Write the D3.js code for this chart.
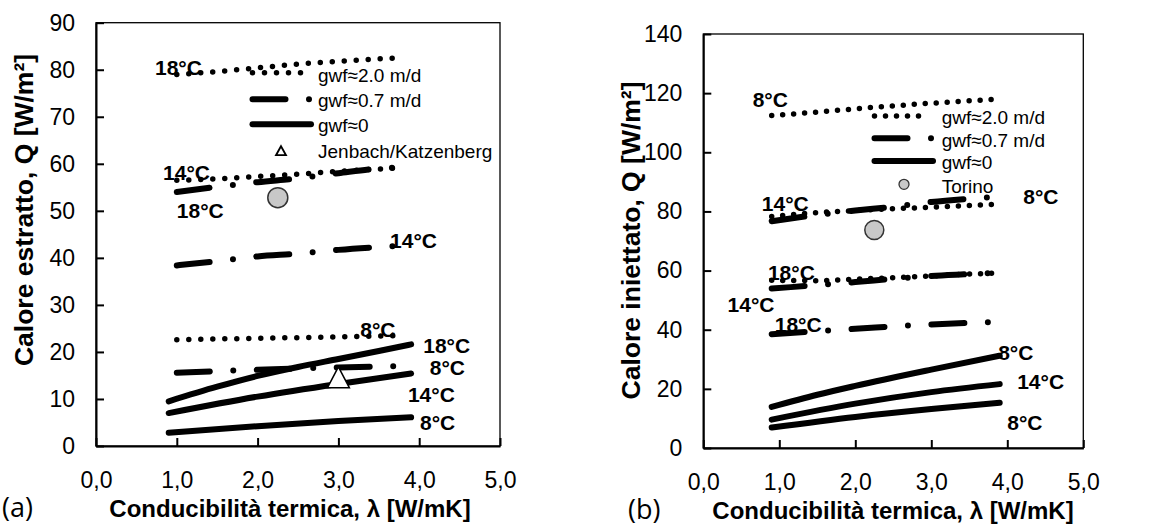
<!DOCTYPE html>
<html lang="it">
<head>
<meta charset="UTF-8">
<title>Calore estratto / iniettato vs conducibilità termica</title>
<script src="https://cdn.jsdelivr.net/npm/d3@7"></script>
<style>
    body { margin: 0; background: #fff; }
    svg { font-family: "Liberation Sans", Arial, sans-serif; }
    .axis text { font-size: 23px; fill: #000; }
    .axis path, .axis line { stroke: #000; stroke-width: 2px; }
    .axis-title { font-size: 24px; font-weight: bold; }
    .y-title { font-size: 26.5px; font-weight: bold; }
    .panel-tag { font-family: "Open Sans", sans-serif; font-size: 27px; }
    .temp { font-size: 21px; font-weight: bold; }
    .legend-text { font-size: 19px; }
    .line { fill: none; stroke: #000; stroke-linecap: round; stroke-linejoin: round; }
</style>
</head>
<body>
<svg id="chart" width="1159" height="528"></svg>
<script>
// x ticks shared by both panels
const xTicks = [0, 1, 2, 3, 4, 5];
const yTicksA = [0, 10, 20, 30, 40, 50, 60, 70, 80, 90];
const yTicksB = [0, 20, 40, 60, 80, 100, 120, 140];

// (a) calore estratto: [lambda, Q]
const aDot18  = [[1.0, 79.0], [1.5, 79.6], [2.0, 80.4], [2.5, 81.2], [3.0, 81.8], [3.5, 82.3], [3.8, 82.6]];
const aDot14  = [[1.0, 56.5], [1.5, 56.8], [2.0, 57.3], [2.5, 57.8], [3.0, 58.4], [3.5, 58.9], [3.8, 59.2]];
const aDot8   = [[1.0, 22.6], [2.0, 22.9], [3.0, 23.2], [3.8, 23.5]];
const aDash18 = [[1.0, 54.0], [1.5, 55.1], [2.0, 56.1], [2.5, 56.9], [3.0, 58.0], [3.5, 59.0], [3.8, 59.3]];
const aDash14 = [[1.0, 38.4], [1.5, 39.3], [2.0, 40.3], [2.5, 40.9], [3.0, 41.7], [3.5, 42.3], [3.8, 42.6]];
const aDash8  = [[1.0, 15.6], [2.0, 16.2], [3.0, 16.7], [3.8, 17.0]];
const aSol18  = [[0.9, 9.5], [1.5, 12.6], [2.0, 14.9], [2.5, 16.8], [3.0, 18.5], [3.5, 20.2], [3.9, 21.6]];
const aSol14  = [[0.9, 7.0], [2.0, 10.5], [3.0, 13.2], [3.9, 15.4]];
const aSol8   = [[0.9, 2.8], [2.0, 4.2], [3.0, 5.3], [3.9, 6.1]];
const aJenbach = [[3.0, 14.6]];
const aTorino  = [[2.25, 52.8]];

// (b) calore iniettato
const bDot8   = [[0.9, 112.4], [1.5, 113.6], [2.0, 114.7], [2.5, 115.7], [3.0, 116.6], [3.5, 117.4], [3.9, 118.0]];
const bDot14  = [[0.9, 78.3], [1.5, 79.6], [2.0, 80.3], [2.5, 80.9], [3.0, 81.4], [3.5, 82.0], [3.9, 82.5]];
const bDot18  = [[0.9, 56.7], [1.5, 56.6], [2.0, 57.1], [2.5, 57.6], [3.0, 58.2], [3.5, 58.8], [3.9, 59.2]];
const bDash8  = [[0.9, 76.7], [1.4, 78.5], [2.0, 80.3], [2.5, 81.6], [3.0, 83.2], [3.5, 84.3], [3.9, 85.0]];
const bDash14 = [[0.9, 53.9], [1.4, 54.9], [2.0, 56.1], [2.5, 57.2], [3.0, 58.2], [3.5, 58.8], [3.9, 59.3]];
const bDash18 = [[0.9, 38.5], [2.0, 40.3], [3.0, 41.8], [3.9, 42.6]];
const bSol8   = [[0.9, 13.9], [1.5, 18.0], [2.0, 21.0], [3.0, 26.5], [3.9, 31.2]];
const bSol14  = [[0.9, 9.6], [2.0, 15.0], [3.0, 18.9], [3.9, 21.6]];
const bSol18  = [[0.9, 6.9], [2.0, 10.5], [3.0, 13.2], [3.9, 15.3]];
const bTorino = [[2.25, 73.7]];

// temperature labels: [text, lambda, Q] (baseline-left anchor)
const aLabels = [["18°C", 0.73, 78.8], ["14°C", 0.83, 56.5], ["18°C", 1.0, 48.4], ["14°C", 3.64, 42.0],
                 ["8°C", 3.27, 23.1], ["18°C", 4.05, 19.7], ["8°C", 4.13, 15.2], ["14°C", 3.86, 9.3], ["8°C", 4.01, 3.4]];
const bLabels = [["8°C", 0.65, 115.3], ["14°C", 0.77, 80.1], ["8°C", 4.21, 82.5], ["18°C", 0.85, 56.8],
                 ["14°C", 0.32, 46.0], ["18°C", 0.94, 39.2], ["8°C", 3.88, 29.8], ["14°C", 4.13, 20.0], ["8°C", 4.0, 6.1]];

const legendA = ["gwf≈2.0 m/d", "gwf≈0.7 m/d", "gwf≈0", "Jenbach/Katzenberg"];
const legendB = ["gwf≈2.0 m/d", "gwf≈0.7 m/d", "gwf≈0", "Torino"];

const svg = d3.select("#chart");
const fmt = d => d3.format(".1f")(d).replace(".", ",");

const styles = {
    dot:  { w: 5.5, dash: "0,12" },
    dash: { w: 6, dash: "33,23.5,0,23.5" },
    sol:  { w: 6, dash: null }
};

function drawPanel(p) {
    const x = d3.scaleLinear().domain([0, 5]).range([p.left, p.right]);
    const y = d3.scaleLinear().domain([0, p.yMax]).range([p.bottom, p.top]);
    const g = svg.append("g");

    // frame
    g.append("rect")
        .attr("x", p.left).attr("y", p.top)
        .attr("width", p.right - p.left).attr("height", p.bottom - p.top)
        .attr("fill", "none").attr("stroke", "#000").attr("stroke-width", 1.3);

    const xAxis = g.append("g").attr("class", "axis")
        .attr("transform", `translate(0,${p.bottom})`)
        .call(d3.axisBottom(x).tickValues(xTicks).tickFormat(fmt)
            .tickSizeInner(-8).tickSizeOuter(0).tickPadding(26));
    const yAxis = g.append("g").attr("class", "axis")
        .attr("transform", `translate(${p.left},0)`)
        .call(d3.axisLeft(y).tickValues(p.yTicks)
            .tickSizeInner(-8).tickSizeOuter(0).tickPadding(21));
    [xAxis, yAxis].forEach(a => a.attr("font-size", null).attr("font-family", null));

    // temperature labels
    g.selectAll(".temp-" + p.id).data(p.labels).enter().append("text")
        .attr("class", "temp")
        .attr("x", d => x(d[1])).attr("y", d => y(d[2]))
        .text(d => d[0]);

    const line = d3.line().x(d => x(d[0])).y(d => y(d[1])).curve(d3.curveMonotoneX);
    p.series.forEach(s => {
        const st = styles[s.kind];
        g.append("path").attr("class", "line")
            .attr("d", line(s.data))
            .attr("stroke-width", st.w)
            .attr("stroke-dasharray", s.kind === "dot" ? p.dotDash : st.dash);
    });

    // markers
    if (p.triangles) {
        g.selectAll(".tri-" + p.id).data(p.triangles).enter().append("path")
            .attr("d", "M0,-10.5L11,10.5L-11,10.5Z")
            .attr("transform", d => `translate(${x(d[0])},${y(d[1])})`)
            .attr("fill", "#fff").attr("stroke", "#000").attr("stroke-width", 1.5);
    }
    g.selectAll(".circ-" + p.id).data(p.circles).enter().append("circle")
        .attr("cx", d => x(d[0])).attr("cy", d => y(d[1])).attr("r", p.circleR)
        .attr("fill", "#c8c8c8").attr("stroke", "#333").attr("stroke-width", 1.5);

    // legend
    const L = p.legend;
    const lg = g.append("g");
    const samples = [
        { kind: "dot", x2: L.x + L.dotLen },
        { kind: "dash", x2: L.x + L.dashLen },
        { kind: "sol", x2: L.x + L.solLen }
    ];
    samples.forEach((s, i) => {
        const st = styles[s.kind];
        lg.append("line").attr("class", "line")
            .attr("x1", L.x).attr("x2", s.x2)
            .attr("y1", L.rows[i]).attr("y2", L.rows[i])
            .attr("stroke-width", st.w)
            .attr("stroke-dasharray", s.kind === "dot" ? p.dotDash : st.dash);
    });
    if (p.triangles) {
        lg.append("path").attr("d", "M0,-4.5L5,4.5L-5,4.5Z")
            .attr("transform", `translate(${L.markX},${L.rows[3]})`)
            .attr("fill", "#fff").attr("stroke", "#000").attr("stroke-width", 1.8);
    } else {
        lg.append("circle").attr("cx", L.markX).attr("cy", L.rows[3]).attr("r", 5)
            .attr("fill", "#c8c8c8").attr("stroke", "#333").attr("stroke-width", 1.3);
    }
    lg.selectAll("text").data(p.legendText).enter().append("text")
        .attr("class", "legend-text")
        .attr("x", L.textX).attr("y", (d, i) => L.base[i])
        .text(d => d);

    // titles
    g.append("text").attr("class", "axis-title")
        .attr("x", p.xTitleX).attr("y", p.xTitleY).attr("text-anchor", "middle")
        .text("Conducibilità termica, λ [W/mK]");
    g.append("text").attr("class", "y-title")
        .attr("transform", `translate(${p.yTitleX},${p.yTitleY}) rotate(-90)`)
        .attr("text-anchor", "middle")
        .text(p.yTitle);
    g.append("text").attr("class", "panel-tag")
        .attr("x", p.tagX).attr("y", p.xTitleY)
        .text(p.tag);
}

drawPanel({
    id: "a", left: 96, right: 500, top: 22.7, bottom: 446, yMax: 90, yTicks: yTicksA,
    dotDash: "0,12",
    series: [
        { kind: "dot", data: aDot18 }, { kind: "dot", data: aDot14 }, { kind: "dot", data: aDot8 },
        { kind: "dash", data: aDash18 }, { kind: "dash", data: aDash14 }, { kind: "dash", data: aDash8 },
        { kind: "sol", data: aSol18 }, { kind: "sol", data: aSol14 }, { kind: "sol", data: aSol8 }
    ],
    labels: aLabels, triangles: aJenbach, circles: aTorino, circleR: 10,
    legend: { x: 252.5, dotLen: 54, dashLen: 57.5, solLen: 58.5, markX: 281, textX: 318,
              rows: [72.7, 99.3, 124.3, 150.7], base: [82, 107, 132, 158] },
    legendText: legendA,
    xTitleX: 290, xTitleY: 517, yTitleX: 33, yTitleY: 210,
    yTitle: "Calore estratto, Q [W/m²]", tag: "(a)", tagX: 2
});

drawPanel({
    id: "b", left: 703.3, right: 1083.3, top: 34, bottom: 448, yMax: 140, yTicks: yTicksB,
    dotDash: "0,11",
    series: [
        { kind: "dot", data: bDot8 }, { kind: "dot", data: bDot14 }, { kind: "dot", data: bDot18 },
        { kind: "dash", data: bDash8 }, { kind: "dash", data: bDash14 }, { kind: "dash", data: bDash18 },
        { kind: "sol", data: bSol8 }, { kind: "sol", data: bSol14 }, { kind: "sol", data: bSol18 }
    ],
    labels: bLabels, triangles: null, circles: bTorino, circleR: 9.5,
    legend: { x: 874.5, dotLen: 53, dashLen: 57, solLen: 58.5, markX: 904, textX: 941.7,
              rows: [116, 138.3, 161, 184.3], base: [123.5, 146.5, 169.3, 193.3] },
    legendText: legendB,
    xTitleX: 893, xTitleY: 519, yTitleX: 640, yTitleY: 240.5,
    yTitle: "Calore iniettato, Q [W/m²]", tag: "(b)", tagX: 628
});
</script>
</body>
</html>
